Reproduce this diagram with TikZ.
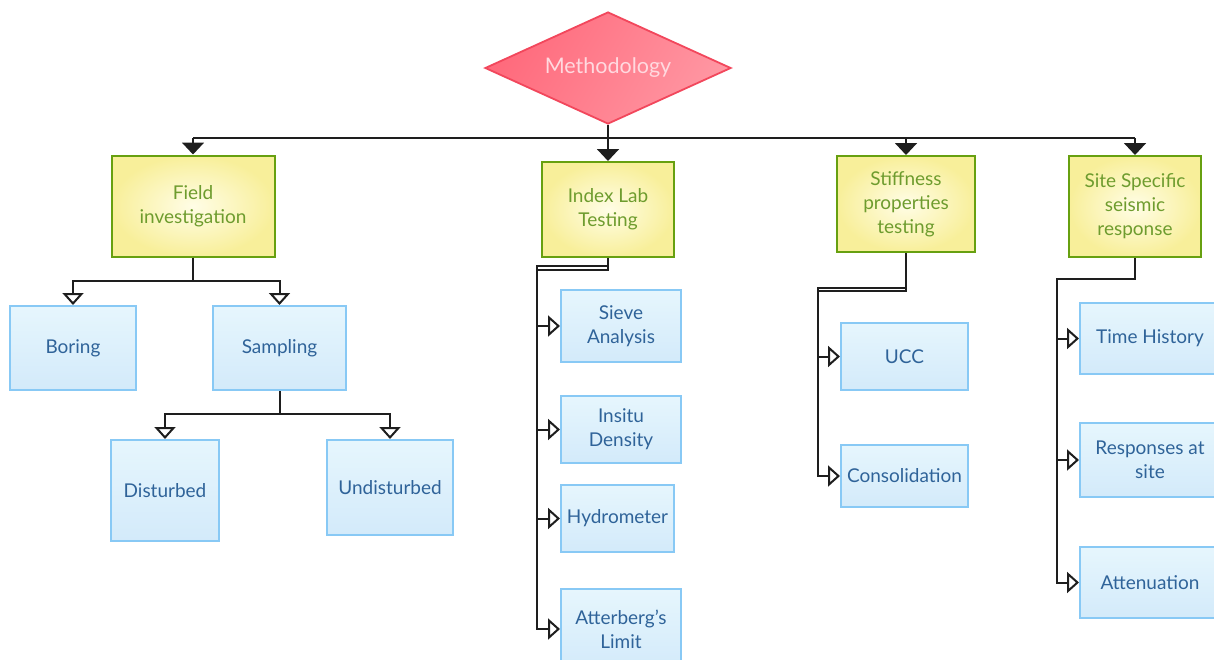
\documentclass[tikz,border=0pt]{standalone}
\usepackage{fontspec}
\setmainfont{Lato}
\usetikzlibrary{arrows.meta,shapes.geometric}

\definecolor{rootfillA}{HTML}{FF6A7C}
\definecolor{rootfillB}{HTML}{FF96A2}
\definecolor{rootborder}{HTML}{F2475C}
\definecolor{roottext}{HTML}{FFD9DF}
\definecolor{stageinner}{HTML}{FFFDE6}
\definecolor{stageouter}{HTML}{F8EF9A}
\definecolor{stageborder}{HTML}{67A010}
\definecolor{stagetext}{HTML}{6E9C2E}
\definecolor{leaftop}{HTML}{E6F6FD}
\definecolor{leafbot}{HTML}{D3EAFA}
\definecolor{leafborder}{HTML}{88C9F5}
\definecolor{leaftext}{HTML}{2F6399}
\definecolor{linkcol}{HTML}{1E1E1E}

\tikzset{
  boxfont/.style={font=\fontsize{19}{24}\selectfont},
  rootnode/.style={diamond, shape aspect=2.2, draw=rootborder, line width=1.8pt,
    left color=rootfillA, right color=rootfillB, shading angle=60,
    text=roottext, inner sep=0pt, minimum width=246pt, minimum height=112pt,
    font=\fontsize{21.5}{26}\selectfont},
  stage/.style={rectangle, draw=stageborder, line width=2pt,
    inner color=stageinner, outer color=stageouter,
    text=stagetext, align=center, inner sep=0pt, boxfont},
  leaf/.style={rectangle, draw=leafborder, line width=2pt,
    top color=leaftop, bottom color=leafbot,
    text=leaftext, align=center, inner sep=0pt, boxfont},
  link/.style={draw=linkcol, line width=2pt},
  solidtip/.style={link, -{Triangle[width=22pt,length=12pt]}},
  opentip/.style={link, -{Triangle[open,width=21pt,length=12pt,line width=2pt]}},
}

\begin{document}
\begin{tikzpicture}[x=1pt,y=-1pt]
\useasboundingbox (0,0) rectangle (1214,659);

% root
\node[rootnode] (root) at (608,68) {Methodology};

% main stages
\node[stage, minimum width=163pt, minimum height=101pt] (field) at (193,206) {Field\\investigation};
\node[stage, minimum width=132pt, minimum height=95pt] (index) at (608,209.5) {Index Lab\\Testing};
\node[stage, minimum width=138pt, minimum height=96pt] (stiff) at (906,204) {Stiffness\\properties\\testing};
\node[stage, minimum width=132pt, minimum height=101pt] (site) at (1135,206.5) {Site Specific\\seismic\\response};

% field investigation branch
\node[leaf, minimum width=126pt, minimum height=84pt] (boring) at (73,348) {Boring};
\node[leaf, minimum width=133pt, minimum height=84pt] (sampling) at (279.5,348) {Sampling};
\node[leaf, minimum width=108pt, minimum height=101pt] (disturbed) at (165,490.5) {Disturbed};
\node[leaf, minimum width=126pt, minimum height=95pt] (undisturbed) at (390,487.5) {Undisturbed};

% index lab branch
\node[leaf, minimum width=120pt, minimum height=72pt] (sieve) at (621,326) {Sieve\\Analysis};
\node[leaf, minimum width=120pt, minimum height=67pt] (insitu) at (621,429.5) {Insitu\\Density};
\node[leaf, minimum width=113pt, minimum height=67pt] (hydro) at (617.5,518.5) {Hydrometer};
\node[leaf, minimum width=120pt, minimum height=80pt] (atter) at (621,629) {Atterberg's\\Limit};

% stiffness branch
\node[leaf, minimum width=127pt, minimum height=67pt] (ucc) at (904.5,356.5) {UCC};
\node[leaf, minimum width=127pt, minimum height=62pt] (consol) at (904.5,476) {Consolidation};

% site response branch
\node[leaf, minimum width=140pt, minimum height=71pt] (timeh) at (1150,338.5) {Time History};
\node[leaf, minimum width=140pt, minimum height=74pt] (resp) at (1150,460) {Responses at\\site};
\node[leaf, minimum width=140pt, minimum height=71pt] (atten) at (1150,582.5) {Attenuation};

% distribution bus under the root
\coordinate (bus) at (0,138);
\draw[link] (field.north |- bus) -- (site.north |- bus);
\draw[solidtip] (root.south) -- (index.north);
\draw[solidtip] (field.north |- bus) -- (field.north);
\draw[solidtip] (stiff.north |- bus) -- (stiff.north);
\draw[solidtip] (site.north |- bus) -- (site.north);

% field investigation connectors
\coordinate (fbus) at (0,281);
\draw[opentip] (field.south) -- (field.south |- fbus) -| (boring.north);
\draw[opentip] (field.south) -- (field.south |- fbus) -| (sampling.north);
\coordinate (sbus) at (0,414);
\draw[opentip] (sampling.south) -- (sampling.south |- sbus) -| (disturbed.north);
\draw[opentip] (sampling.south) -- (sampling.south |- sbus) -| (undisturbed.north);

% index lab connectors (side trunk)
\coordinate (it1) at (537,266);
\coordinate (it2) at (537,270);
\draw[opentip] (index.south) |- (it1) |- (sieve.west);
\draw[opentip] (index.south) |- (it1) |- (insitu.west);
\draw[opentip] (index.south) |- (it2) |- (hydro.west);
\draw[opentip] (index.south) |- (it2) |- (atter.west);

% stiffness connectors
\coordinate (st1) at (818,288);
\coordinate (st2) at (818,291);
\draw[opentip] (stiff.south) |- (st1) |- (ucc.west);
\draw[opentip] (stiff.south) |- (st2) |- (consol.west);

% site response connectors
\coordinate (rt) at (1057,279);
\draw[opentip] (site.south) |- (rt) |- (timeh.west);
\draw[opentip] (site.south) |- (rt) |- (resp.west);
\draw[opentip] (site.south) |- (rt) |- (atten.west);
\end{tikzpicture}
\end{document}
